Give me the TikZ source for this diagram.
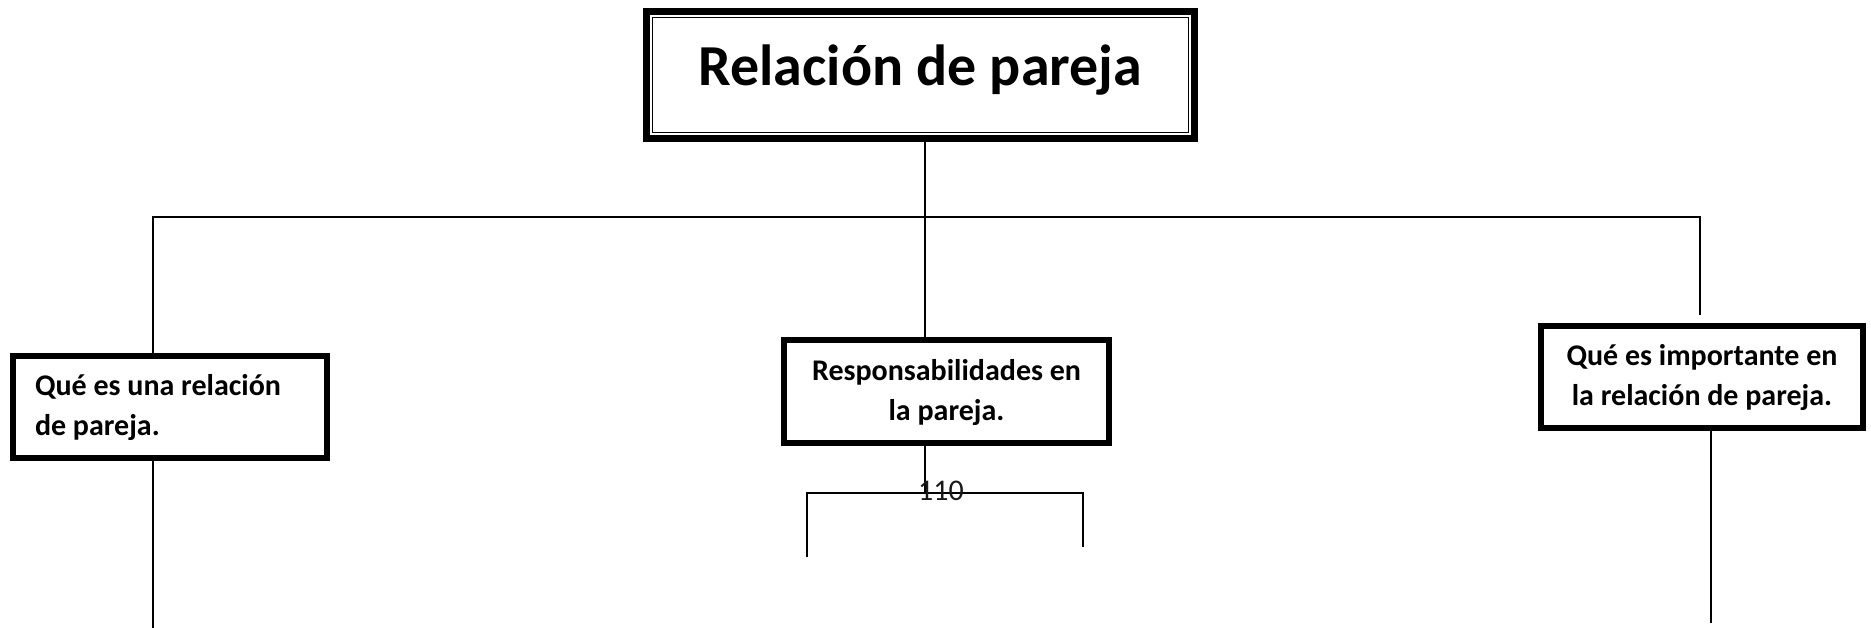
\documentclass[tikz,border=0pt]{standalone}
\usepackage{fontspec}
\setmainfont{Carlito}
\begin{document}
\begin{tikzpicture}[x=1pt,y=1pt,
    topic/.style={draw, line width=5.7pt, inner ysep=0pt, text height=22pt, text depth=45pt,
      font=\fontsize{30}{40}\selectfont\bfseries, align=flush center},
    link/.style={black, line width=2pt}]
  \useasboundingbox (0,0) rectangle (1871,-628);
  % title box: thick frame with a thin one inside
  \node[draw, line width=6.5pt, minimum width=548.3pt, minimum height=127.3pt,
    text height=40pt, text depth=18pt, font=\fontsize{58}{68}\selectfont\bfseries] (title) at (920.5,-75) {Relación de pareja};
  \draw[line width=1.7pt] ([shift={(9.5,-9.5)}]title.north west) rectangle ([shift={(-9.5,9.5)}]title.south east);
  % the three topics
  \node[topic, minimum width=314.3pt, minimum height=102.3pt, text width=270pt, inner xsep=22.15pt, align=flush left] (que) at (170,-407) {Qué es una relación\\de pareja.};
  \node[topic, minimum width=325.3pt, minimum height=103.3pt, text width=305.3pt, inner xsep=10pt] (resp) at (946.5,-391.5) {Responsabilidades en\\la pareja.};
  \node[topic, minimum width=322.3pt, minimum height=102.3pt, text width=302.3pt, inner xsep=10pt] (imp) at (1702,-377) {Qué es importante en\\la relación de pareja.};
  \coordinate (trunk) at (925,-217);
  \coordinate (lcorner) at (153,-217);
  \coordinate (rcorner) at (1700,-217);
  \coordinate (rstop) at (1700,-315);
  \coordinate (lend) at (153,-628);
  \coordinate (rend) at (1711,-623);
  \coordinate (bar) at (925,-493);
  \coordinate (barl) at (807,-557);
  \coordinate (barr) at (1083,-547);
  \draw[link] (title.south -| trunk) -- (resp.north -| trunk);
  \draw[link] (que.north -| lcorner) -- (lcorner) -- (rcorner) -- (rstop);
  \draw[link] (que.south -| lend) -- (lend);
  \draw[link] (imp.south -| rend) -- (rend);
  \draw[link] (resp.south -| bar) -- (bar);
  \draw[line width=1.8pt] (barl) -- (barl |- bar) -- (barr |- bar) -- (barr);
  \node[font=\fontsize{30}{34}\selectfont, text=black!90, anchor=base, inner sep=0pt] (pagenum) at (941,-500) {110};
\end{tikzpicture}
\end{document}
